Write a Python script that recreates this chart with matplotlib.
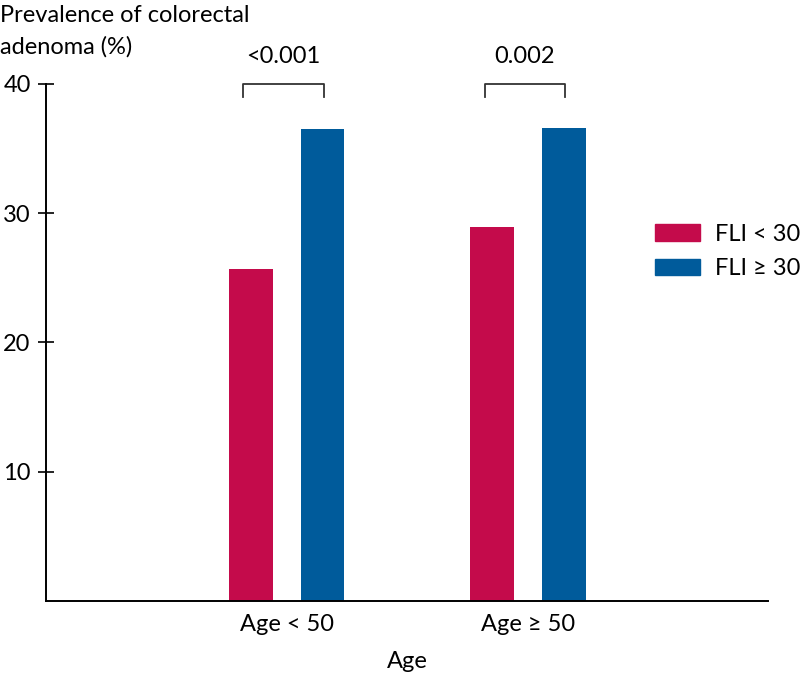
import numpy as np
import matplotlib
matplotlib.use("Agg")
import matplotlib.pyplot as plt
from matplotlib.patches import Patch

plt.rcParams['font.family'] = ['Lato', 'DejaVu Sans']

# ---- datos ----
grupos = ["Age < 50", "Age \u2265 50"]
fli_bajo = [25.7, 28.9]    # FLI < 30
fli_alto = [36.5, 36.6]    # FLI >= 30
p_valores = ["<0.001", "0.002"]
series = ["FLI < 30", "FLI \u2265 30"]
colores = ["#C40B4B", "#005B9B"]

FS = 17

fig = plt.figure(figsize=(8, 6.74), dpi=100)
ax = fig.add_axes([0.0575, 0.1083, 0.9025, 0.7672])

x = np.arange(len(grupos))
ancho = 0.182
desp = 0.149
ax.bar(x - desp, fli_bajo, ancho, color=colores[0])
ax.bar(x + desp, fli_alto, ancho, color=colores[1])

ax.set_xlim(-0.996, 1.994)
ax.set_ylim(0, 40)
ax.set_yticks([10, 20, 30, 40])
ax.set_xticks(x)
ax.set_xticklabels(grupos, fontsize=FS)
ax.tick_params(axis="x", length=0, pad=9)
ax.tick_params(axis="y", direction="inout", length=12, width=1.2, labelsize=FS, pad=5)
for s in ["top", "right"]:
    ax.spines[s].set_visible(False)
for s in ["left", "bottom"]:
    ax.spines[s].set_linewidth(1.4)
ax.set_xlabel("Age", fontsize=FS, labelpad=12)

# ---- corchetes con p ----
for i, p in enumerate(p_valores):
    x0, x1 = x[i] - 0.18, x[i] + 0.155
    ax.plot([x0, x0, x1, x1], [39, 40, 40, 39], color="#333333", lw=1.3, clip_on=False)
    ax.text((x0 + x1) / 2, 41.3, p, ha="center", va="bottom", fontsize=FS, clip_on=False)

fig.text(0.0, 0.993, "Prevalence of colorectal\nadenoma (%)", ha="left", va="top",
         fontsize=FS, linespacing=1.6)

handles = [Patch(color=c, label=l) for c, l in zip(colores, series)]
fig.legend(handles=handles, loc="center left", bbox_to_anchor=(0.819, 0.627),
           frameon=False, fontsize=FS, handlelength=1.9, handleheight=0.68,
           labelspacing=0.57, handletextpad=0.64, borderpad=0, borderaxespad=0)

fig.savefig("out.png", dpi=100)
